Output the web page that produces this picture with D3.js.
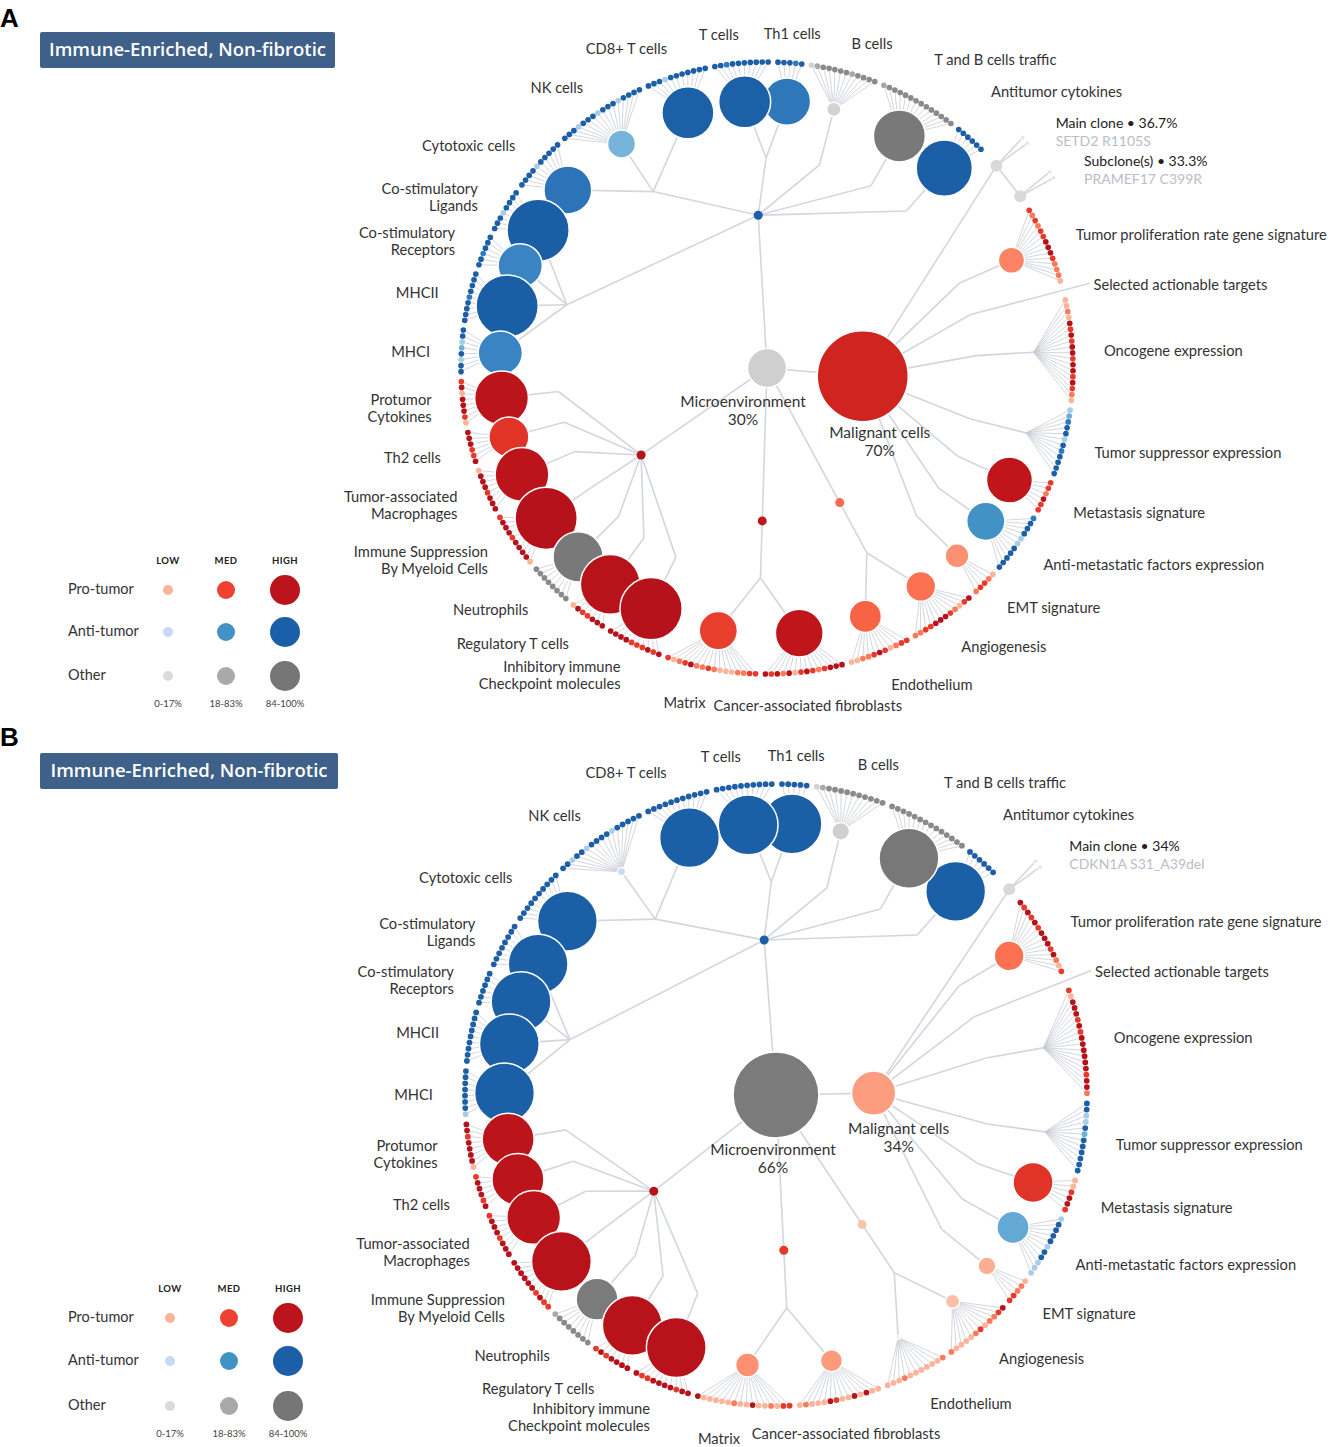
<!DOCTYPE html>
<html><head><meta charset="utf-8">
<script src="https://cdn.jsdelivr.net/npm/d3@7"></script>
<style>
body{margin:0;background:#fff}
svg{display:block}
text{font-family:Lato,"Noto Sans",sans-serif}
</style>
</head><body>
<svg id="chart" width="1332" height="1447"></svg>
<script>
// ---------------- DATA ----------------
const panelLetters = ["A", "B"];
const panelTitles = ["Immune-Enriched, Non-fibrotic", "Immune-Enriched, Non-fibrotic"];
const compartments = ["Malignant cells", "Microenvironment"];
const compartmentPctA = [70, 30];
const compartmentPctB = [34, 66];

const categories = ["Tumor proliferation rate gene signature","Selected actionable targets","Oncogene expression","Tumor suppressor expression","Metastasis signature","Anti-metastatic factors expression","EMT signature","Angiogenesis","Endothelium","Cancer-associated fibroblasts","Matrix","Inhibitory immune\nCheckpoint molecules","Regulatory T cells","Neutrophils","Immune Suppression\nBy Myeloid Cells","Tumor-associated\nMacrophages","Th2 cells","Protumor\nCytokines","MHCI","MHCII","Co-stimulatory\nReceptors","Co-stimulatory\nLigands","Cytotoxic cells","NK cells","CD8+ T cells","T cells","Th1 cells","B cells","T and B cells traffic","Antitumor cytokines"];
const categoryTypes = ["pro","pro","pro","anti","pro","anti","pro","pro","pro","pro","pro","pro","pro","other","pro","pro","pro","pro","anti","anti","anti","anti","anti","anti","anti","anti","anti","other","other","anti"];
const categoryGroups = ["mal","mal","mal","mal","mal","mal","mal","angio","angio","stroma","stroma","protumor","protumor","protumor","protumor","protumor","protumor","protumor","antitumor","antitumor","antitumor","antitumor","antitumor","antitumor","antitumor","antitumor","antitumor","antitumor","antitumor","antitumor"];
const categorySubgroups = ["tp","sat","onc","ts","met","am","emt","vasc","vasc","fib","fib","icm","treg","neut","mdsc","tam","th2","pc","ap","ap","ap","ap","eff","eff","eff","tc","tc","bc","traffic","cyt"];

// category scores (0-100), null = no circle
const scoreA = [37,null,null,null,70,57,33,43,47,73,57,97,93,77,97,83,60,83,67,97,67,97,73,40,80,80,72,17,80,87];
const scoreB = [43,null,null,null,60,47,23,17,0,30,33,93,93,63,93,83,80,80,93,93,93,93,93,7,93,93,93,23,93,93];

// gene expression level per dot (1 low .. 4 high, 0 = no dot), clockwise
const genesA = ["32323344432221","0","112143434434434321","123441434444","332433","34441144444","12332","431234443322","33213432211","44432343142434","3322111232243213","4343334444","4443341","33333333","1444434443","44434441","433444","13444143","44142144","444434444","443444","44414444","4444144444","4441444144414444","44414444444","4434444444","44434","123333323333","23333333333333","444444"];
const genesB = ["43434344434213","0","314443434444443442","441142444444","113443","14444144111","12233","432213211112","21111112111","11414113411121","3312114112111114","4434444334","4444343","33333332","3343444444","44434443","434443","14444344","14444444","444444444","444444","44444444","4444444444","4414414444144444","44444444444","4444444444","44444","123333333333","33333333333333","444444"];

const groups = ["angio","stroma","protumor","antitumor"];
const groupTypes = ["pro","pro","pro","anti"];
const groupScoreA = [45, 72, 95, 95];
const groupScoreB = [15, 58, 95, 95];

const clonesA = ["Main clone • 36.7%", "Subclone(s) • 33.3%"];
const cloneMutationsA = ["SETD2 R1105S", "PRAMEF17 C399R"];
const clonesB = ["Main clone • 34%"];
const cloneMutationsB = ["CDKN1A S31_A39del"];

const legendRows = ["Pro-tumor", "Anti-tumor", "Other"];
const legendRowTypes = ["pro", "anti", "other"];
const legendLevels = ["LOW", "MED", "HIGH"];
const legendRanges = ["0-17%", "18-83%", "84-100%"];
const legendValues = [12, 52, 95];

// ---------------- SCALES ----------------
const colorScales = {
  pro: d3.scaleLinear().domain([0,17,35,45,58,70,100]).range(["#fee0d2","#fcc0a8","#fc8b6b","#fb6a4a","#e63a2a","#c0151b","#b5121b"]).clamp(true),
  anti: d3.scaleLinear().domain([0,7,45,57,67,80,100]).range(["#deebf7","#c6dbef","#6baed6","#4292c6","#3a84c4","#1c61a8","#1a5ea6"]).clamp(true),
  other: d3.scaleLinear().domain([0,25,60,100]).range(["#dcdcdc","#cfcfcf","#7b7b7b","#777777"]).clamp(true)
};
const legendColor = {
  pro: d3.scaleThreshold().domain([18, 84]).range(["#fcb49a","#ef4131","#bc141c"]),
  anti: d3.scaleThreshold().domain([18, 84]).range(["#c6dbef","#4292c6","#1a5fa8"]),
  other: d3.scaleThreshold().domain([18, 84]).range(["#dadada","#a9a9a9","#767676"])
};
const legendRadius = d3.scaleThreshold().domain([18, 84]).range([5, 9, 15]);
const dotColors = {
  pro: d3.scaleOrdinal().domain(["1","2","3","4"]).range(["#fcb49a","#fb7a5a","#e8392a","#b5121b"]),
  anti: d3.scaleOrdinal().domain(["1","2","3","4"]).range(["#a9cde6","#6baed6","#2f7cbd","#1d5fa7"]),
  other: d3.scaleOrdinal().domain(["1","2","3","4"]).range(["#d3d3d3","#a8a8a8","#8a8a8a","#727272"])
};
const radiusScale = d3.scaleLinear().domain([0, 100]).range([2, 32]);
const compRadius = d3.scaleLinear().domain([0, 100]).range([0, 65]);

// ---------------- DRAW ----------------
const svg = d3.select("#chart");
const LINK = "#d3d6de", FAN = "#c8ccd4", TXT = "#333";
const FS = 14.7;

const panels = [
  {cx: 767, cy: 368, R: 306, scores: scoreA, genes: genesA, gscore: groupScoreA, pct: compartmentPctA, clones: clonesA, muts: cloneMutationsA,
   compDx: [17, -24],
   title: {x: 40, y: 32, w: 295, h: 36}, letterY: 27, legend: {cols: [168, 226, 285], head: 562, rows: [590, 632, 676], foot: 705}},
  {cx: 776, cy: 1095, R: 311, scores: scoreB, genes: genesB, gscore: groupScoreB, pct: compartmentPctB, clones: clonesB, muts: cloneMutationsB,
   compDx: [25, -3],
   title: {x: 40, y: 753, w: 298, h: 36}, letterY: 746, legend: {cols: [170, 229, 288], head: 1290, rows: [1318, 1361, 1406], foot: 1435}}
];

panels.forEach((P, pi) => {
  const g = svg.append("g");
  const {cx, cy, R} = P;
  const polar = (r, a) => { const t = a * Math.PI / 180; return [cx + r * Math.sin(t), cy - r * Math.cos(t)]; };

  // --- hierarchy ---
  const mal = {kind: "compartment", idx: 0, children: []};
  const mic = {kind: "compartment", idx: 1, children: []};
  const rootData = {kind: "root", children: [mal, mic]};
  mal.children.push({kind: "clonegroup", children: P.clones.map((c, i) => ({kind: "clone", idx: i}))});
  const groupNodes = {}, subNodes = {};
  categories.forEach((c, i) => {
    const gk = categoryGroups[i];
    let parent = mal;
    if (gk !== "mal") {
      if (!groupNodes[gk]) { groupNodes[gk] = {kind: "group", idx: groups.indexOf(gk), children: []}; mic.children.push(groupNodes[gk]); }
      parent = groupNodes[gk];
    }
    const sk = categorySubgroups[i];
    if (!subNodes[sk]) { subNodes[sk] = {kind: "subgroup", children: []}; parent.children.push(subNodes[sk]); }
    const cat = {kind: "category", idx: i, children: []};
    P.genes[i].split("").forEach(lv => cat.children.push({kind: "gene", cat: i, level: lv}));
    subNodes[sk].children.push(cat);
  });
  const root = d3.hierarchy(rootData);
  const sep = (a, b) => {
    const ka = a.data.kind, kb = b.data.kind;
    if (ka === "clone" && kb === "clone") return 6.5;
    if (ka === "clone" || kb === "clone") { const o = ka === "clone" ? b : a; return o.data.cat === 0 ? 2.8 : 3.8; }
    return a.data.cat === b.data.cat ? 1 : 1.65;
  };
  d3.cluster().size([360, 1]).separation(sep)(root);
  const leaves = root.leaves();
  const offset = 48.6 - leaves[0].x;
  const radiusFor = {root: 0, group: 0.5 * R, subgroup: 0.686 * R, category: 0.873 * R, gene: R, clone: R, clonegroup: R};
  root.each(n => {
    n.angle = n.x + offset;
    let r = radiusFor[n.data.kind];
    if (n.data.kind === "compartment") r = n.data.idx === 0 ? 0.314 * R : 0;
    n.r = r;
    [n.px, n.py] = polar(r, n.angle);
  });
  const byKind = k => root.descendants().filter(n => n.data.kind === k);
  const malN = byKind("compartment").find(n => n.data.idx === 0);
  const micN = byKind("compartment").find(n => n.data.idx === 1);
  const cats = byKind("category");
  const cloneNs = byKind("clone");

  // --- links ---
  const linkG = g.append("g").attr("stroke", LINK).attr("stroke-width", 1.6).attr("fill", "none");
  const segs = [[micN, malN]];
  root.descendants().forEach(n => {
    const k = n.data.kind;
    if (k === "group" || k === "subgroup" || k === "category") segs.push([n.parent, n]);
  });
  segs.push([malN, cloneNs[0]]);
  for (let i = 1; i < cloneNs.length; i++) segs.push([cloneNs[i - 1], cloneNs[i]]);
  linkG.selectAll("line").data(segs).join("line")
    .attr("x1", d => d[0].px).attr("y1", d => d[0].py).attr("x2", d => d[1].px).attr("y2", d => d[1].py);
  cats.filter(c => P.genes[c.data.idx] === "0").forEach(c => {
    const [x2, y2] = polar(1.09 * R, c.angle);
    linkG.append("line").attr("x1", c.px).attr("y1", c.py).attr("x2", x2).attr("y2", y2);
  });

  // --- fans ---
  const genes = byKind("gene").filter(n => n.data.level !== "0");
  g.append("g").attr("stroke", FAN).attr("stroke-width", 0.8)
    .selectAll("line").data(genes).join("line")
    .attr("x1", d => d.parent.px).attr("y1", d => d.parent.py).attr("x2", d => d.px).attr("y2", d => d.py);

  // clone mutation fans
  const cloneG = g.append("g");
  cloneNs.forEach(c => {
    [-0.6, 0.6].forEach(da => {
      const [x2, y2] = polar(R + 38, c.angle + da);
      cloneG.append("line").attr("x1", c.px).attr("y1", c.py).attr("x2", x2).attr("y2", y2).attr("stroke", "#d6d8de").attr("stroke-width", 1.6);
      cloneG.append("circle").attr("cx", x2).attr("cy", y2).attr("r", 2.2).attr("fill", "#e4e4e4").attr("stroke", "#fff").attr("stroke-width", 0.8);
    });
  });

  // --- gene dots ---
  g.append("g").selectAll("circle").data(genes).join("circle")
    .attr("cx", d => d.px).attr("cy", d => d.py).attr("r", R / 108)
    .attr("fill", d => dotColors[categoryTypes[d.data.cat]](d.data.level));

  // --- group nodes ---
  g.append("g").selectAll("circle").data(byKind("group")).join("circle")
    .attr("cx", d => d.px).attr("cy", d => d.py).attr("r", 4.5)
    .attr("fill", d => colorScales[groupTypes[d.data.idx]](P.gscore[d.data.idx]));

  // --- category circles (counter-clockwise draw order) ---
  const catCircles = cats.filter(c => P.scores[c.data.idx] !== null).sort((a, b) => b.angle - a.angle);
  g.append("g").selectAll("circle").data(catCircles).join("circle")
    .attr("cx", d => d.px).attr("cy", d => d.py)
    .attr("r", d => radiusScale(P.scores[d.data.idx]))
    .attr("fill", d => colorScales[categoryTypes[d.data.idx]](P.scores[d.data.idx]))
    .attr("stroke", "#fff").attr("stroke-width", 1.5);

  // clone nodes
  g.append("g").selectAll("circle").data(cloneNs).join("circle")
    .attr("cx", d => d.px).attr("cy", d => d.py).attr("r", 6).attr("fill", "#d9d9d9");

  // compartments
  const comps = [malN, micN];
  g.append("g").selectAll("circle").data(comps).join("circle")
    .attr("cx", d => d.px).attr("cy", d => d.py)
    .attr("r", d => compRadius(P.pct[d.data.idx]))
    .attr("fill", d => colorScales[d.data.idx === 0 ? "pro" : "other"](P.pct[d.data.idx] - 5))
    .attr("stroke", "#fff").attr("stroke-width", 1.5);
  comps.forEach(d => {
    const rr = compRadius(P.pct[d.data.idx]);
    const lx = d.px + P.compDx[d.data.idx];
    const t = g.append("text").attr("x", lx).attr("y", d.py + rr * 0.9 + 21)
      .attr("text-anchor", "middle").attr("font-size", 15.5).attr("fill", TXT);
    t.append("tspan").text(compartments[d.data.idx]);
    t.append("tspan").attr("x", lx).attr("dy", 18).text(P.pct[d.data.idx] + "%");
  });

  // --- clone labels ---
  const obstacles = [];
  cloneNs.forEach((c, i) => {
    const [x, y] = polar(1.235 * R, c.angle + 1.2);
    const t = g.append("text").attr("x", x).attr("y", y).attr("font-size", 14).attr("dominant-baseline", "middle");
    t.append("tspan").attr("fill", "#222").text(P.clones[i]);
    t.append("tspan").attr("x", x).attr("dy", 18).attr("fill", "#b9bdc9").text(P.muts[i]);
    obstacles.push(t.node().getBBox());
  });

  // --- category labels ---
  const labelR = 1.103 * R;
  const labels = cats.map(c => {
    const a = ((c.angle % 360) + 360) % 360;
    const [x, y0] = polar(labelR, c.angle);
    const y = y0 + 4;
    const anchor = ((a > 166 && a < 180) || (a > 0 && a < 8)) ? "middle" : (a < 180 ? "start" : "end");
    const lines = categories[c.data.idx].split("\n");
    const t = g.append("text").attr("x", x).attr("y", y).attr("text-anchor", anchor)
      .attr("font-size", FS).attr("fill", TXT).attr("dominant-baseline", "middle");
    lines.forEach((ln, li) => t.append("tspan").attr("x", x).attr("y", y + (li - (lines.length - 1) / 2) * 17).text(ln));
    return {a, t, x, y, lines};
  });
  const PAD = 14;
  labels.filter(l => l.a > 0 && l.a < 60).sort((p, q) => q.a - p.a).forEach(l => {
    const box = l.t.node().getBBox();
    let shift = 0;
    for (let it = 0; it < 10; it++) {
      const hit = obstacles.find(o => box.x < o.x + o.width && box.x + box.width > o.x && box.y - shift < o.y + o.height + PAD && box.y - shift + box.height + PAD > o.y);
      if (!hit) break;
      shift += (box.y - shift + box.height + PAD) - hit.y;
    }
    if (shift > 0) l.t.selectAll("tspan").attr("y", (d, li) => l.y - shift + (li - (l.lines.length - 1) / 2) * 17);
    obstacles.push(l.t.node().getBBox());
  });

  // --- title, letter ---
  svg.append("text").attr("x", 0).attr("y", P.letterY).attr("font-size", 26).attr("font-weight", 700)
    .style("font-family", "'Liberation Sans', Arial, sans-serif").attr("fill", "#000").text(panelLetters[pi]);
  svg.append("rect").attr("x", P.title.x).attr("y", P.title.y).attr("width", P.title.w).attr("height", P.title.h)
    .attr("rx", 2).attr("fill", "#3f6089");
  svg.append("text").attr("x", P.title.x + P.title.w / 2).attr("y", P.title.y + P.title.h / 2 + 1)
    .attr("text-anchor", "middle").attr("dominant-baseline", "middle").attr("fill", "#fff")
    .attr("font-size", 18.5).attr("font-weight", 600).style("font-family", "'Open Sans', sans-serif").text(panelTitles[pi]);

  // --- legend ---
  const L = P.legend;
  const lg = svg.append("g");
  legendLevels.forEach((lv, j) => {
    lg.append("text").attr("x", L.cols[j]).attr("y", L.head).attr("text-anchor", "middle").attr("dominant-baseline", "middle")
      .attr("font-size", 9.5).attr("font-weight", 700).attr("fill", "#222").attr("letter-spacing", 0.4).text(lv);
    lg.append("text").attr("x", L.cols[j]).attr("y", L.foot).attr("text-anchor", "middle").attr("dominant-baseline", "middle")
      .attr("font-size", 9.5).attr("fill", "#444").text(legendRanges[j]);
  });
  legendRows.forEach((rw, i) => {
    lg.append("text").attr("x", 68).attr("y", L.rows[i]).attr("dominant-baseline", "middle")
      .attr("font-size", 14.5).attr("fill", TXT).text(rw);
    legendValues.forEach((v, j) => {
      lg.append("circle").attr("cx", L.cols[j]).attr("cy", L.rows[i]).attr("r", legendRadius(v))
        .attr("fill", legendColor[legendRowTypes[i]](v));
    });
  });
});
</script>
</body></html>
